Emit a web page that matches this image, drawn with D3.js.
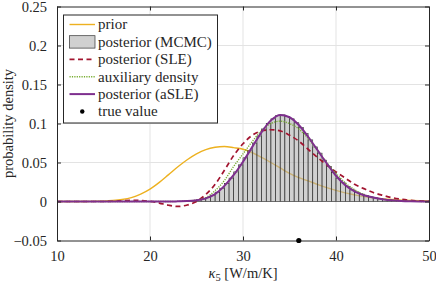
<!DOCTYPE html>
<html>
<head>
<meta charset="utf-8">
<script src="https://cdn.jsdelivr.net/npm/d3@7"></script>
<style>
  body { margin: 0; background: #fff; }
  text { font-family: "Liberation Serif", "Times New Roman", serif; fill: #262626; }
</style>
</head>
<body>
<div id="chart"></div>
<script>
// grid for curves, kappa_5 in W/m/K
const xs = d3.range(10, 51);

const prior = [0, 0, 0, 0, 0.0002, 0.0005, 0.0012, 0.0025, 0.005, 0.0095,
  0.0158, 0.0245, 0.0345, 0.0445, 0.0535, 0.061, 0.0665, 0.0695, 0.0705, 0.069,
  0.067, 0.0625, 0.0565, 0.05, 0.043, 0.036, 0.0305, 0.0265, 0.022, 0.0178,
  0.0142, 0.011, 0.0085, 0.0063, 0.0046, 0.0034, 0.0025, 0.0018, 0.0013, 0.0009, 0.0006];

const postSLE = [0, 0, 0, 0, 0, 0, 0.0003, 0.001, 0.0016, 0.0012,
  0.0002, -0.002, -0.0048, -0.0063, -0.0045, 0.0, 0.009, 0.022, 0.04, 0.059,
  0.074, 0.085, 0.0905, 0.092, 0.0905, 0.085, 0.0775, 0.067, 0.0565, 0.047,
  0.038, 0.030, 0.022, 0.0165, 0.0115, 0.008, 0.005, 0.003, 0.0015, 0.0007, 0.0003];

const auxDensity = [0, 0, 0, 0, 0, 0, 0, 0, 0, 0,
  0, 0, 0, 0.0002, 0.0007, 0.002, 0.005, 0.014, 0.027, 0.045,
  0.061, 0.077, 0.091, 0.100, 0.103, 0.100, 0.093, 0.081, 0.066, 0.050,
  0.036, 0.024, 0.015, 0.009, 0.005, 0.003, 0.0015, 0.0007, 0.0003, 0.0001, 0];

const postASLE = [0, 0, 0, 0, 0, 0, 0, 0, 0, 0,
  0, 0, 0, 0.0002, 0.0005, 0.0015, 0.004, 0.0095, 0.02, 0.034,
  0.051, 0.07, 0.089, 0.104, 0.111, 0.108, 0.098, 0.083, 0.066, 0.049,
  0.033, 0.021, 0.013, 0.008, 0.005, 0.003, 0.0015, 0.0007, 0.0003, 0.0001, 0];

// MCMC histogram, bins of 0.5 starting at 23
const binStart = 23, binWidth = 0.5;
const mcmcHist = [0.0002, 0.0004, 0.0007, 0.0012, 0.002, 0.0033, 0.0052, 0.0082, 0.012, 0.017,
  0.023, 0.030, 0.038, 0.047, 0.056, 0.065, 0.075, 0.084, 0.093, 0.100,
  0.106, 0.110, 0.111, 0.109, 0.106, 0.101, 0.095, 0.087, 0.079, 0.070,
  0.062, 0.053, 0.045, 0.037, 0.030, 0.024, 0.019, 0.015, 0.012, 0.0095,
  0.0075, 0.006, 0.0046, 0.0036, 0.0027, 0.002, 0.0014, 0.001, 0.0007, 0.0004];

const trueValue = 36;

const xTicks = [10, 20, 30, 40, 50];
const yTicks = [-0.05, 0, 0.05, 0.1, 0.15, 0.2, 0.25];
const legendLabels = ["prior", "posterior (MCMC)", "posterior (SLE)", "auxiliary density", "posterior (aSLE)", "true value"];

const colors = {prior: "#EDB120", sle: "#A2142F", aux: "#77AC30", asle: "#7E2F8E"};

const W = 436, H = 284;
const margin = {top: 6.5, right: 7, bottom: 43.5, left: 57};
const width = W - margin.left - margin.right;
const height = H - margin.top - margin.bottom;

const svg = d3.select("#chart").append("svg")
  .attr("width", W).attr("height", H);
const g = svg.append("g")
  .attr("transform", "translate(" + margin.left + "," + margin.top + ")");

const x = d3.scaleLinear().domain([10, 50]).range([0, width]);
const y = d3.scaleLinear().domain([-0.05, 0.25]).range([height, 0]);

g.append("defs").append("clipPath").attr("id", "clip")
  .append("rect").attr("width", width).attr("height", height);

// grid
g.append("g").selectAll("line.gx").data(xTicks.slice(1, -1)).enter().append("line")
  .attr("x1", d => x(d)).attr("x2", d => x(d)).attr("y1", 0).attr("y2", height)
  .attr("stroke", "#e3e3e3").attr("stroke-width", 1);
g.append("g").selectAll("line.gy").data(yTicks.slice(1, -1)).enter().append("line")
  .attr("y1", d => y(d)).attr("y2", d => y(d)).attr("x1", 0).attr("x2", width)
  .attr("stroke", "#e3e3e3").attr("stroke-width", 1);

const plot = g.append("g").attr("clip-path", "url(#clip)");

const line = arr => d3.line()
  .x((d, i) => x(xs[i]))
  .y(d => y(d))
  .curve(d3.curveMonotoneX)(arr);

// prior drawn first, histogram sits on top of it
plot.append("path").attr("d", line(prior))
  .attr("fill", "none").attr("stroke", colors.prior).attr("stroke-width", 1.4);

plot.selectAll("rect.bar").data(mcmcHist).enter().append("rect")
  .attr("class", "bar")
  .attr("x", (d, i) => x(binStart + i * binWidth))
  .attr("width", x(binStart + binWidth) - x(binStart))
  .attr("y", d => y(d))
  .attr("height", d => y(0) - y(d))
  .attr("fill", "#b0b0b0").attr("fill-opacity", 0.6)
  .attr("stroke", "#2a2a2a").attr("stroke-width", 0.6);

plot.append("path").attr("d", line(postSLE))
  .attr("fill", "none").attr("stroke", colors.sle).attr("stroke-width", 1.7)
  .attr("stroke-dasharray", "5,3.5");
plot.append("path").attr("d", line(auxDensity))
  .attr("fill", "none").attr("stroke", colors.aux).attr("stroke-width", 1.4)
  .attr("stroke-dasharray", "1.2,1.2");
plot.append("path").attr("d", line(postASLE))
  .attr("fill", "none").attr("stroke", colors.asle).attr("stroke-width", 2);

// axes box
const xAxisB = d3.axisBottom(x).tickValues(xTicks).tickSizeInner(-4).tickSizeOuter(0).tickPadding(10);
const xAxisT = d3.axisTop(x).tickValues(xTicks).tickSizeInner(-4).tickSizeOuter(0).tickFormat("");
const yAxisL = d3.axisLeft(y).tickValues(yTicks).tickSizeInner(-4).tickSizeOuter(0).tickPadding(10)
  .tickFormat(d => d === 0 ? "0" : d3.format("")(+d.toFixed(2)));
const yAxisR = d3.axisRight(y).tickValues(yTicks).tickSizeInner(-4).tickSizeOuter(0).tickFormat("");

[[xAxisB, "translate(0," + height + ")"], [xAxisT, "translate(0,0)"],
 [yAxisL, "translate(0,0)"], [yAxisR, "translate(" + width + ",0)"]].forEach(([ax, tr]) => {
  const a = g.append("g").attr("transform", tr).call(ax);
  a.select(".domain").attr("stroke", "#262626").attr("stroke-width", 1);
  a.selectAll(".tick line").attr("stroke", "#262626");
  a.selectAll("text").style("font-family", "Liberation Serif, serif")
    .style("font-size", "14.5px").attr("fill", "#262626");
});

// true value marker
g.append("circle").attr("cx", x(trueValue)).attr("cy", y(-0.05)).attr("r", 2.6).attr("fill", "#000");

// axis labels
svg.append("text")
  .attr("transform", "translate(12.5," + (margin.top + height / 2) + ") rotate(-90)")
  .attr("text-anchor", "middle").style("font-size", "14.5px")
  .text("probability density");

const xl = svg.append("text")
  .attr("x", margin.left + width / 2).attr("y", 278)
  .attr("text-anchor", "middle").style("font-size", "14.5px");
xl.append("tspan").style("font-style", "italic").text("κ");
xl.append("tspan").attr("dy", 3).style("font-size", "10.5px").text("5");
xl.append("tspan").attr("dy", -3).text(" [W/m/K]");

// legend
const leg = svg.append("g").attr("transform", "translate(63.5,15)");
leg.append("rect").attr("width", 154).attr("height", 108)
  .attr("fill", "#fff").attr("stroke", "#262626").attr("stroke-width", 1);

const rowY = i => 9.5 + i * 17.4;
const sampleX0 = 6, sampleX1 = 31.5;
leg.selectAll("text.lab").data(legendLabels).enter().append("text")
  .attr("x", 34.5).attr("y", (d, i) => rowY(i)).attr("dy", "0.33em")
  .style("font-size", "15px").text(d => d);

const samples = [
  {i: 0, c: colors.prior, w: 1.4, dash: null},
  {i: 2, c: colors.sle, w: 1.7, dash: "5,3.5"},
  {i: 3, c: colors.aux, w: 1.4, dash: "1.2,1.2"},
  {i: 4, c: colors.asle, w: 2, dash: null}
];
samples.forEach(s => {
  leg.append("line").attr("x1", sampleX0).attr("x2", sampleX1)
    .attr("y1", rowY(s.i)).attr("y2", rowY(s.i))
    .attr("stroke", s.c).attr("stroke-width", s.w)
    .attr("stroke-dasharray", s.dash);
});
leg.append("rect").attr("x", sampleX0).attr("y", rowY(1) - 6.2)
  .attr("width", sampleX1 - sampleX0).attr("height", 12.4)
  .attr("fill", "#d0d0d0").attr("stroke", "#333").attr("stroke-width", 0.7);
leg.append("circle").attr("cx", (sampleX0 + sampleX1) / 2).attr("cy", rowY(5)).attr("r", 2.2).attr("fill", "#000");
</script>
</body>
</html>
